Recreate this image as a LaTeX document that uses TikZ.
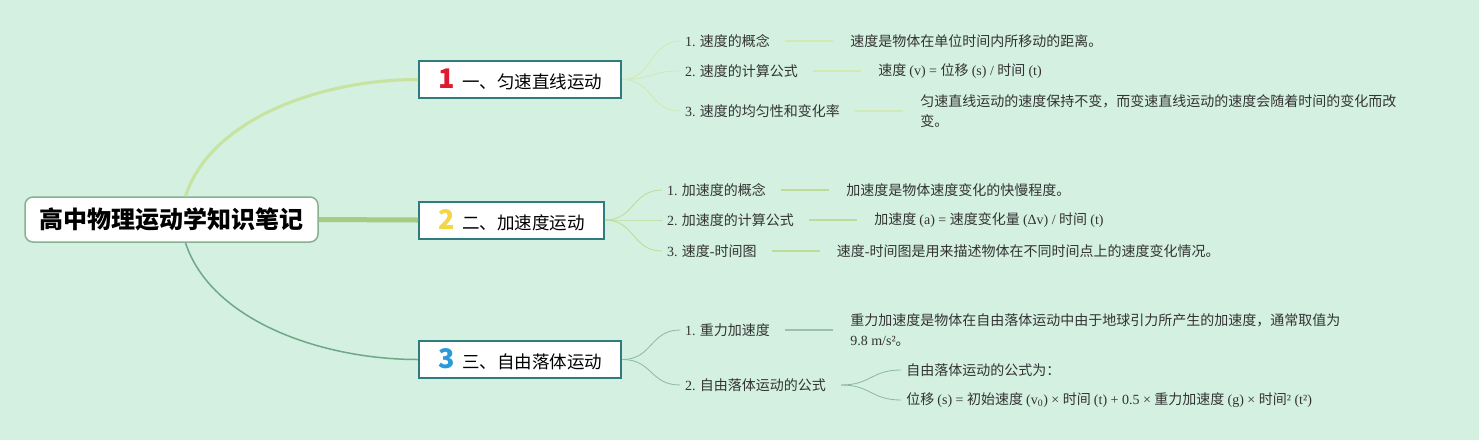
\documentclass[tikz,border=0pt]{standalone}
\usepackage{fontspec}
\setmainfont{Liberation Serif}
\newfontfamily\cjk{Noto Sans CJK SC}
\newcommand\lat[1]{{\rmfamily #1}}
\usetikzlibrary{positioning}
\definecolor{bgmint}{HTML}{D3F0E0}
\definecolor{boxteal}{HTML}{2F7B7E}
\definecolor{rootline}{HTML}{86B28F}
\definecolor{brA}{HTML}{C6E3A0}
\definecolor{brB}{HTML}{A6CB82}
\definecolor{brC}{HTML}{6FA886}
\definecolor{numred}{HTML}{E0192F}
\definecolor{numyellow}{HTML}{F3D646}
\definecolor{numblue}{HTML}{2C9AD8}
\begin{document}
\begin{tikzpicture}
    [%%%%%%%%%%%%%%%%%%%%%%%%%%%%%%
        x=1pt, y=-1pt, node distance=80pt,
        root/.style={rectangle,rounded corners=8pt,draw=rootline,line width=1.5pt,fill=white,
            minimum width=293pt,minimum height=45pt,font=\cjk\bfseries\fontsize{24}{24}\selectfont},
        box/.style={rectangle,draw=boxteal,line width=2pt,fill=white,minimum height=37pt,
            inner xsep=19pt,anchor=west,font=\cjk\fontsize{17.5}{20}\selectfont},
        item/.style={anchor=west,inner sep=0pt,text=black!80,font=\cjk\fontsize{14}{20}\selectfont},
        desc/.style={item,align=left},
        trunkA/.style={brA,line width=3pt},
        trunkB/.style={brB,line width=5pt},
        trunkC/.style={brC,line width=1.5pt},
        forkA/.style={brA!80!white,line width=0.8pt},
        forkB/.style={brA!70!brB,line width=0.8pt},
        forkC/.style={brC!80!white,line width=0.8pt},
        stubA/.style={brA!80!white,line width=1.5pt},
        stubB/.style={brA!70!brB,line width=1.5pt},
        stubC/.style={brC!70!white,line width=1.5pt},
    ]%%%%%%%%%%%%%%%%%%%%%%%%%%%%%%

\fill[bgmint] (0,0) rectangle (1479,440);
\useasboundingbox (0,0) rectangle (1479,440);

% main branches
\node[root] (root) at (171.5,219.5) {高中物理运动学知识笔记};
\node[box] (b1) at (418,79.5) {\textcolor{numred}{\cjk\bfseries\fontsize{27}{27}\selectfont 1}\hspace{8pt}一、匀速直线运动};
\node[box] (b2) at (418,220) {\textcolor{numyellow}{\cjk\bfseries\fontsize{27}{27}\selectfont 2}\hspace{8pt}二、加速度运动};
\node[box] (b3) at (418,359.5) {\textcolor{numblue}{\cjk\bfseries\fontsize{27}{27}\selectfont 3}\hspace{8pt}三、自由落体运动};

\draw[trunkA] ([xshift=14pt]root.north) .. controls +(25,-77) and +(-98,0) .. (b1.west);
\draw[trunkB] (root.east) -- (b2.west);
\draw[trunkC] ([xshift=14pt]root.south) .. controls +(25,77) and +(-98,0) .. (b3.west);

% branch 1
\node[item] (i11) at (685,41) {\lat{1.} 速度的概念};
\node[item] (i12) at (685,71) {\lat{2.} 速度的计算公式};
\node[item] (i13) at (685,111) {\lat{3.} 速度的均匀性和变化率};
\node[desc,right=of i11] (d11) {速度是物体在单位时间内所移动的距离。};
\node[desc,right=of i12] (d12) {速度 \lat{(v) = }位移 \lat{(s) / }时间 \lat{(t)}};
\node[desc,right=of i13] (d13) {匀速直线运动的速度保持不变，而变速直线运动的速度会随着时间的变化而改\\变。};

% branch 2
\node[item] (i21) at (667,190) {\lat{1.} 加速度的概念};
\node[item] (i22) at (667,220) {\lat{2.} 加速度的计算公式};
\node[item] (i23) at (667,251) {\lat{3.} 速度\lat{-}时间图};
\node[desc,right=of i21] (d21) {加速度是物体速度变化的快慢程度。};
\node[desc,right=of i22] (d22) {加速度 \lat{(a) = }速度变化量 \lat{(Δv) / }时间 \lat{(t)}};
\node[desc,right=of i23] (d23) {速度\lat{-}时间图是用来描述物体在不同时间点上的速度变化情况。};

% branch 3
\node[item] (i31) at (685,330) {\lat{1.} 重力加速度};
\node[item] (i32) at (685,385) {\lat{2.} 自由落体运动的公式};
\node[desc,right=of i31] (d31) {重力加速度是物体在自由落体运动中由于地球引力所产生的加速度，通常取值为\\\lat{9.8 m/s²}。};
\node[desc,right=of i32,yshift=15pt] (d32a) {自由落体运动的公式为：};
\node[desc,right=of i32,yshift=-15pt] (d32b) {位移 \lat{(s) = }初始速度 \lat{(v\textsubscript{0}) × }时间 \lat{(t) + 0.5 × }重力加速度 \lat{(g) × }时间\lat{² (t²)}};

\foreach \i in {i11,i12,i13}
    \draw[forkA] (b1.east) .. controls +(30,0) and +(-30,0) .. ([xshift=-5pt]\i.west);
\foreach \i in {i21,i22,i23}
    \draw[forkB] (b2.east) .. controls +(30,0) and +(-30,0) .. ([xshift=-5pt]\i.west);
\foreach \i in {i31,i32}
    \draw[forkC] (b3.east) .. controls +(30,0) and +(-30,0) .. ([xshift=-5pt]\i.west);
\foreach \d in {d32a,d32b}
    \draw[forkC] ([xshift=15pt]i32.east) .. controls +(30,0) and +(-30,0) .. ([xshift=-5pt]\d.west);

\foreach \i/\d in {i11/d11,i12/d12,i13/d13}
    \draw[stubA] ([xshift=15pt]\i.east) -- ([xshift=-17pt]\d.west);
\foreach \i/\d in {i21/d21,i22/d22,i23/d23}
    \draw[stubB] ([xshift=15pt]\i.east) -- ([xshift=-17pt]\d.west);
\draw[stubC] ([xshift=15pt]i31.east) -- ([xshift=-17pt]d31.west);
\end{tikzpicture}
\end{document}
